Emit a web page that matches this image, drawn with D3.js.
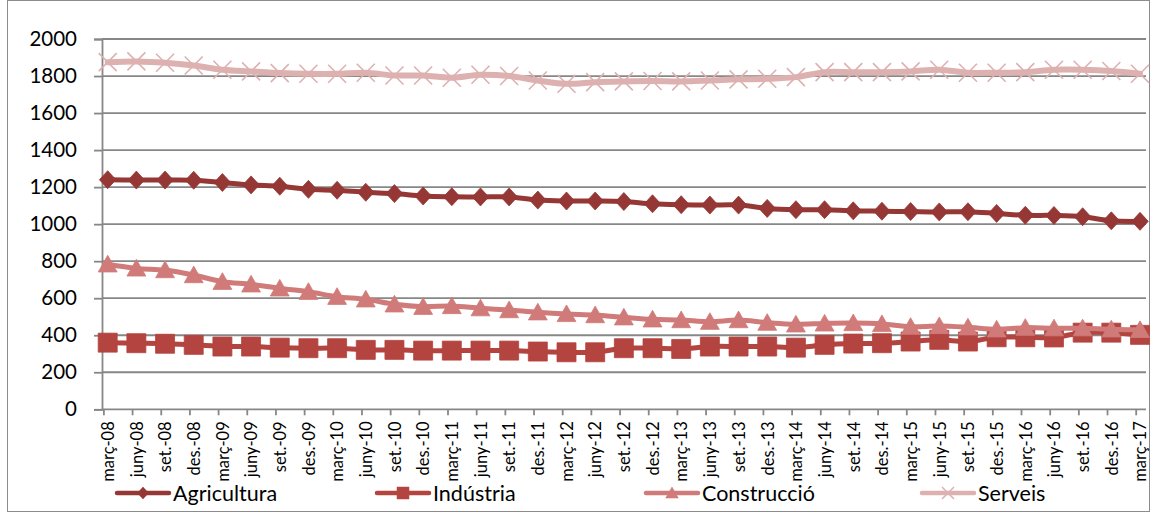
<!DOCTYPE html>
<html>
<head>
<meta charset="utf-8">
<script src="https://cdn.jsdelivr.net/npm/d3@7/dist/d3.min.js"></script>
<style>
  html, body { margin: 0; padding: 0; background: #fff; }
  svg { display: block; font-family: Lato, "Open Sans", sans-serif; }
</style>
</head>
<body>
<svg id="chart" width="1153" height="513"></svg>
<script>
// ---- data ----
const categories = [
  "març-08","juny-08","set.-08","des.-08",
  "març-09","juny-09","set.-09","des.-09",
  "març-10","juny-10","set.-10","des.-10",
  "març-11","juny-11","set.-11","des.-11",
  "març-12","juny-12","set.-12","des.-12",
  "març-13","juny-13","set.-13","des.-13",
  "març-14","juny-14","set.-14","des.-14",
  "març-15","juny-15","set.-15","des.-15",
  "març-16","juny-16","set.-16","des.-16",
  "març-17"
];
const agricultura = [1240,1238,1238,1237,1225,1212,1205,1188,1183,1172,1165,1152,1148,1147,1147,1130,1125,1125,1122,1110,1105,1103,1103,1085,1078,1078,1072,1070,1068,1066,1067,1058,1048,1047,1040,1018,1015];
const industria   = [360,357,354,348,339,339,333,330,330,321,321,317,317,317,317,312,308,308,330,330,326,339,339,339,333,348,355,357,366,375,366,389,389,388,414,414,402];
const construccio = [783,761,752,725,689,675,653,635,608,594,567,554,558,546,536,524,515,509,497,486,482,473,482,468,459,464,466,461,446,450,443,432,441,438,438,432,429];
const serveis     = [1875,1879,1872,1857,1834,1825,1816,1812,1812,1818,1803,1803,1791,1807,1800,1776,1758,1767,1771,1773,1771,1776,1782,1785,1794,1821,1821,1821,1825,1834,1818,1818,1821,1834,1834,1827,1812];
const seriesNames = ["Agricultura","Indústria","Construcció","Serveis"];
const yTicks = [0,200,400,600,800,1000,1200,1400,1600,1800,2000];

// ---- styles ----
const colors = ["#953735","#B4443F","#D07B79","#DDB1B0"];
const markers = ["diamond","square","triangle","cross"];
const lineWidths = [5,5,5,6];

const svg = d3.select("#chart");

// frame
svg.append("rect").attr("x",7.5).attr("y",0.5).attr("width",1142).attr("height",511)
  .attr("fill","#fff").attr("stroke","#8c8c8c").attr("stroke-width",1);

const plotLeft = 102, plotRight = 1146;
const x = d3.scalePoint().domain(categories).range([107.7, 1140]);
const y = d3.scaleLinear().domain([0,2000]).range([409.3, 39]);

// gridlines
svg.append("g").selectAll("line").data(yTicks.filter(d=>d>0)).join("line")
  .attr("x1", plotLeft).attr("x2", plotRight)
  .attr("y1", d=>y(d)).attr("y2", d=>y(d))
  .attr("stroke","#878787").attr("stroke-width",1.8);

// y axis
const yAxis = svg.append("g").attr("transform",`translate(${plotLeft},0)`)
  .call(d3.axisLeft(y).tickValues(yTicks).tickSize(8).tickPadding(17).tickFormat(d3.format("d")));
yAxis.select(".domain").attr("stroke","#878787").attr("stroke-width",1.8);
yAxis.selectAll(".tick line").attr("stroke","#878787").attr("stroke-width",1.8);
yAxis.selectAll(".tick text").attr("font-size",20.5).attr("fill","#000")
  .attr("font-family","Lato, sans-serif");

// x axis
const xAxis = svg.append("g").attr("transform",`translate(0,${y(0)})`)
  .call(d3.axisBottom(x).tickSize(6).tickPadding(0));
xAxis.select(".domain").attr("d",`M${plotLeft},0H${plotRight}`)
  .attr("stroke","#878787").attr("stroke-width",1.8);
xAxis.selectAll(".tick line").attr("transform","translate(-4.3,0)")
  .attr("stroke","#878787").attr("stroke-width",1.8);
xAxis.selectAll(".tick text")
  .attr("font-size",16.5).attr("fill","#000").attr("font-family","Lato, sans-serif")
  .attr("text-anchor","end")
  .attr("transform","translate(0,12) rotate(-90)")
  .attr("x",0).attr("y",0).attr("dy","0.35em");

// marker paths
function markerPath(type, s) {
  const h = s/2;
  if (type === "diamond") return `M0,${-h}L${h*0.92},0L0,${h}L${-h*0.92},0Z`;
  if (type === "square") return `M${-h},${-h}H${h}V${h}H${-h}Z`;
  if (type === "triangle") return `M0,${-h}L${h*1.05},${h*0.85}L${-h*1.05},${h*0.85}Z`;
  if (type === "cross") return `M${-h},${-h}L${h},${h}M${h},${-h}L${-h},${h}`;
}
const markerSizes = [18,19,18,18];

const allSeries = [agricultura, industria, construccio, serveis];
const line = d3.line().x((d,i)=>x(categories[i])).y(d=>y(d)).curve(d3.curveCatmullRom.alpha(0.5));

allSeries.forEach((vals, si) => {
  const g = svg.append("g");
  g.append("path").attr("d", line(vals)).attr("fill","none")
    .attr("stroke", colors[si]).attr("stroke-width", lineWidths[si])
    .attr("stroke-linejoin","round").attr("stroke-linecap","round");
  g.selectAll("path.m").data(vals).join("path").attr("class","m")
    .attr("transform",(d,i)=>`translate(${x(categories[i])},${y(d)})`)
    .attr("d", markerPath(markers[si], markerSizes[si]))
    .attr("fill", markers[si]==="cross" ? "none" : colors[si])
    .attr("stroke", colors[si])
    .attr("stroke-width", markers[si]==="cross" ? 1.6 : 0.8);
});

// legend
const legendX = [117, 377, 646, 922];
const legendY = 493;
const lg = svg.append("g");
seriesNames.forEach((name, si) => {
  const x0 = legendX[si];
  lg.append("line").attr("x1",x0).attr("x2",x0+52).attr("y1",legendY).attr("y2",legendY)
    .attr("stroke",colors[si]).attr("stroke-width",4.5).attr("stroke-linecap","round");
  lg.append("path").attr("transform",`translate(${x0+26},${legendY})`)
    .attr("d", markerPath(markers[si], 12))
    .attr("fill", markers[si]==="cross" ? "none" : colors[si])
    .attr("stroke", colors[si]).attr("stroke-width", markers[si]==="cross"?1.5:0.5);
  lg.append("text").attr("x",x0+56).attr("y",legendY).attr("dy","0.36em")
    .attr("font-size",21.5).attr("fill","#000").text(name);
});
</script>
</body>
</html>
